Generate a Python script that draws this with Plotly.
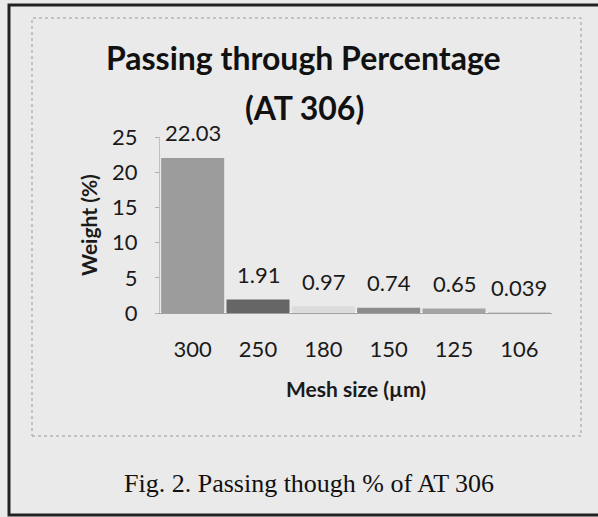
import plotly.graph_objects as go

mesh_sizes = ["300", "250", "180", "150", "125", "106"]
weights = [22.03, 1.91, 0.97, 0.74, 0.65, 0.039]
weight_labels = ["22.03", "1.91", "0.97", "0.74", "0.65", "0.039"]
bar_colors = ["#9c9c9c", "#666666", "#dcdcdc", "#8c8c8c", "#a4a4a4", "#cfcfcf"]

W, H = 598, 517
BG = "#eaeaea"
PL, PT, PW, PH = 160, 137, 392, 176  # plot area in screen pixels
L, T = PL, PT
R, B = W - L - PW, H - T - PH
SANS = "Lato"

def px(x):
    return (x - PL) / PW

def py(y):
    return (PT + PH - y) / PH

fig = go.Figure(go.Bar(
    x=mesh_sizes, y=weights, marker=dict(color=bar_colors, line=dict(width=0)),
    hoverinfo="x+y",
))

for i, (val, lab) in enumerate(zip(weights, weight_labels)):
    fig.add_annotation(x=i, y=val, text=lab, showarrow=False, yanchor="middle",
                       yshift=25, font=dict(family=SANS, size=22, color="#1a1a1a"))

fig.update_layout(
    width=W, height=H,
    margin=dict(l=L, r=R, t=T, b=B),
    paper_bgcolor=BG, plot_bgcolor="rgba(0,0,0,0)",
    bargap=0.035, showlegend=False,
    font=dict(family=SANS, color="#1a1a1a"),
    xaxis=dict(
        type="category", range=[-0.5, 5.5], showgrid=False, showline=True,
        linecolor="#a0a0a0", linewidth=1,
        ticks="", tickfont=dict(size=22), ticklabelstandoff=17,
        title=dict(text="<b>Mesh size (µm)</b>", font=dict(size=21), standoff=20),
    ),
    yaxis=dict(
        range=[0, 25], dtick=5, showgrid=False, showline=True, linecolor="#c0c0c0",
        ticks="outside", ticklen=4, tickcolor="#b0b0b0", tickfont=dict(size=22),
        ticklabelstandoff=13,
        title=dict(text="<b>Weight (%)</b>", font=dict(size=21), standoff=8),
    ),
)

fig.add_annotation(
    text="<b>Passing through Percentage</b>",
    xref="paper", yref="paper", x=px(303), y=py(58), xanchor="center", yanchor="middle",
    showarrow=False, font=dict(family=SANS, size=32, color="#111111"),
)
fig.add_annotation(
    text="<b>(AT 306)</b>",
    xref="paper", yref="paper", x=px(304), y=py(107), xanchor="center", yanchor="middle",
    showarrow=False, font=dict(family=SANS, size=32, color="#111111"),
)
fig.add_annotation(
    text="Fig. 2. Passing though % of AT 306",
    xref="paper", yref="paper", x=px(309), y=py(483), xanchor="center", yanchor="middle",
    showarrow=False, font=dict(family="Liberation Serif", size=26, color="#111111"),
)
fig.add_shape(type="rect", xref="paper", yref="paper",
              x0=px(32), x1=px(581), y0=py(436), y1=py(18),
              line=dict(color="#9a9a9a", width=1, dash="dot"))
fig.add_shape(type="rect", xref="paper", yref="paper",
              x0=px(9), x1=px(602), y0=py(515), y1=py(5),
              line=dict(color="#222222", width=3))

fig.write_html(
    "out.html",
    config={"displayModeBar": False},
    post_script=f"document.body.style.margin='0';document.body.style.background='{BG}';",
)
